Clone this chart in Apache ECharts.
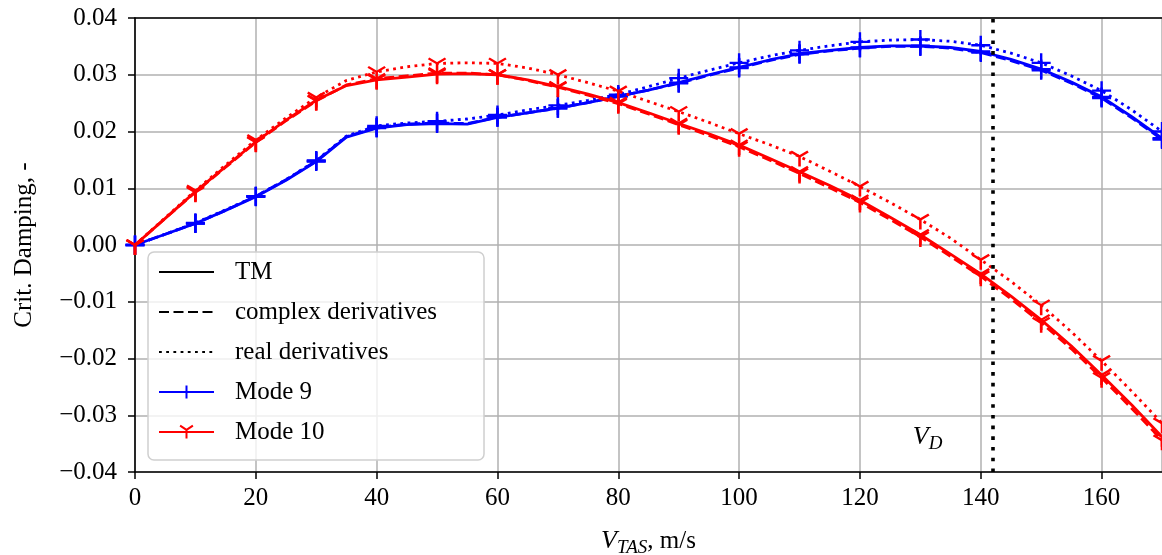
<!DOCTYPE html>
<html>
<head>
<meta charset="utf-8">
<script src="https://cdn.jsdelivr.net/npm/echarts@6/dist/echarts.min.js"></script>
<style>
html,body{margin:0;padding:0;background:#fff;overflow:hidden;}
#chart{width:1162px;height:555px;}
</style>
</head>
<body>
<div id="chart"></div>
<script>
// ---- data ----
const speeds = [0,5,10,15,20,25,30,35,40,45,50,55,60,65,70,75,80,85,90,95,100,105,110,115,120,125,130,135,140,145,150,155,160,165,170];

const mode9_TM      = [0,0.0019,0.0038,0.0061,0.0085,0.0114,0.0147,0.0190,0.0206,0.0212,0.0214,0.0213,0.0225,0.0233,0.0241,0.0251,0.0262,0.0273,0.0286,0.0300,0.0313,0.0326,0.0337,0.0343,0.0348,0.0351,0.0351,0.0348,0.0341,0.0327,0.0310,0.0287,0.0261,0.0226,0.0188];
const mode9_complex = [0,0.0019,0.0038,0.0061,0.0086,0.0115,0.0148,0.0191,0.0207,0.0213,0.0215,0.0214,0.0225,0.0233,0.0241,0.0251,0.0262,0.0273,0.0285,0.0299,0.0312,0.0325,0.0336,0.0342,0.0347,0.0350,0.0350,0.0347,0.0339,0.0325,0.0308,0.0285,0.0259,0.0224,0.0186];
const mode9_real    = [0,0.0019,0.0039,0.0062,0.0086,0.0115,0.0149,0.0192,0.0210,0.0215,0.0218,0.0222,0.0229,0.0238,0.0246,0.0255,0.0265,0.0279,0.0294,0.0308,0.0321,0.0333,0.0343,0.0351,0.0358,0.0361,0.0362,0.0359,0.0352,0.0338,0.0321,0.0298,0.0272,0.0238,0.0200];

const mode10_TM      = [0,0.0047,0.0094,0.0138,0.0182,0.0220,0.0255,0.0281,0.0291,0.0296,0.0301,0.0302,0.0300,0.0291,0.0279,0.0266,0.0251,0.0233,0.0214,0.0196,0.0176,0.0153,0.0129,0.0105,0.0079,0.0049,0.0018,-0.0016,-0.0051,-0.0090,-0.0132,-0.0178,-0.0229,-0.0282,-0.0338];
const mode10_complex = [0,0.0047,0.0093,0.0137,0.0181,0.0219,0.0254,0.0282,0.0293,0.0298,0.0303,0.0303,0.0300,0.0290,0.0278,0.0264,0.0249,0.0231,0.0212,0.0193,0.0173,0.0150,0.0126,0.0101,0.0075,0.0045,0.0014,-0.0020,-0.0055,-0.0095,-0.0137,-0.0183,-0.0234,-0.0288,-0.0344];
const mode10_real    = [0,0.0048,0.0096,0.0141,0.0185,0.0224,0.0260,0.0290,0.0305,0.0314,0.0320,0.0321,0.0320,0.0312,0.0300,0.0286,0.0271,0.0253,0.0235,0.0216,0.0196,0.0177,0.0156,0.0130,0.0103,0.0075,0.0045,0.0012,-0.0026,-0.0064,-0.0106,-0.0153,-0.0204,-0.0258,-0.0314];

const markerStep = 10;          // markers every 10 m/s
const vD = 142;                 // design dive speed
const vDLabel = [131.2, -0.0338];
const legendNames = ['TM','complex derivatives','real derivatives','Mode 9','Mode 10'];
const xTicks = [0,20,40,60,80,100,120,140,160];
const yTickLabels = ['−0.04','−0.03','−0.02','−0.01','0.00','0.01','0.02','0.03','0.04'];

// ---- styles ----
const FONT = 'Liberation Serif';
const BLUE = '#0000ff', RED = '#ff0000';
const PLUS = 'path://M0,-1L0,1M-1,0L1,0';
const TRI  = 'path://M0,0L0,1M0,0L-0.866,-0.5M0,0L0.866,-0.5';
const DASH = [10, 4.5], DOT = [2.8, 4.4];
const LW = 2.8;

function lineSeries(name, ys, color, dash, sym, size, offset, z) {
  return {
    type: 'line', name: name,
    data: speeds.map((x, i) => ({ value: [x, ys[i]], symbol: (x % markerStep === 0) ? sym : 'none' })),
    symbol: sym, symbolSize: size, symbolOffset: offset,
    showSymbol: true, showAllSymbol: true, smooth: false,
    lineStyle: { color: color, width: LW, type: dash },
    itemStyle: { color: color, borderColor: color, borderWidth: 2.4 },
    emphasis: { disabled: true }, z: z, animation: false
  };
}
function dummy(name, dash) {
  return { type: 'line', name: name, data: [], symbol: 'none',
    lineStyle: { color: '#000', width: LW, type: dash },
    itemStyle: { color: '#000', opacity: 0 } };
}

const series = [
  dummy('TM', 'solid'),
  dummy('complex derivatives', DASH),
  dummy('real derivatives', DOT),
  lineSeries('Mode 9', mode9_TM, BLUE, 'solid', PLUS, 19, [0,0], 3),
  lineSeries('Mode 9 complex', mode9_complex, BLUE, DASH, PLUS, 19, [0,0], 3),
  lineSeries('Mode 9 real', mode9_real, BLUE, DOT, PLUS, 19, [0,0], 3),
  lineSeries('Mode 10', mode10_TM, RED, 'solid', TRI, [17,15], [0,2.5], 4),
  lineSeries('Mode 10 complex', mode10_complex, RED, DASH, TRI, [17,15], [0,2.5], 4),
  lineSeries('Mode 10 real', mode10_real, RED, DOT, TRI, [17,15], [0,2.5], 4)
];
series[3].markLine = {
  silent: true, symbol: ['none','none'], label: { show: false },
  lineStyle: { color: '#000', width: 3.6, type: [3.6, 7.1] },
  data: [{ xAxis: vD }]
};
series[3].markPoint = {
  silent: true, symbol: 'circle', symbolSize: 1, itemStyle: { color: 'rgba(0,0,0,0)' },
  label: {
    show: true, position: 'inside', formatter: '{v|V}{s|D}',
    rich: {
      v: { fontFamily: FONT, fontStyle: 'italic', fontSize: 26, color: '#000' },
      s: { fontFamily: FONT, fontStyle: 'italic', fontSize: 19, color: '#000', padding: [14,0,0,0] }
    }
  },
  data: [{ coord: vDLabel }]
};

const legendData = legendNames.map((n, i) => i < 3 ? { name: n, itemStyle: { opacity: 0 } } : { name: n });

const axisLineStyle = { color: '#000', width: 1.6 };
const option = {
  animation: false,
  textStyle: { fontFamily: FONT },
  grid: { left: 135, width: 1027, top: 18, height: 454, containLabel: false, outerBoundsMode: 'none' },
  legend: {
    data: legendData, orient: 'vertical', left: 148, top: 252,
    itemWidth: 55, itemHeight: 16, itemGap: 14,
    padding: [7, 47, 15, 10],
    backgroundColor: 'rgba(255,255,255,0.8)', borderColor: '#cfcfcf', borderWidth: 1.5, borderRadius: 6,
    textStyle: { fontFamily: FONT, fontSize: 25, color: '#000', lineHeight: 26, padding: [0,0,0,16] },
    selectedMode: false
  },
  xAxis: [{
    type: 'value', min: 0, max: 170, interval: 20,
    name: '{v|V}{s|TAS}{n|, m/s}', nameLocation: 'middle', nameGap: 54,
    nameTextStyle: { rich: {
      v: { fontFamily: FONT, fontStyle: 'italic', fontSize: 26, color: '#000' },
      s: { fontFamily: FONT, fontStyle: 'italic', fontSize: 19, color: '#000', padding: [12,0,0,0] },
      n: { fontFamily: FONT, fontSize: 25, color: '#000' }
    } },
    axisLine: { show: true, onZero: false, lineStyle: axisLineStyle },
    axisTick: { show: true, length: 7, lineStyle: { color: '#000', width: 1.5 } },
    axisLabel: { fontFamily: FONT, fontSize: 25, color: '#000', margin: 14, showMaxLabel: false,
      formatter: v => xTicks.indexOf(v) >= 0 ? String(v) : '' },
    splitLine: { show: true, lineStyle: { color: '#b0b0b0', width: 1.5 } }
  }, {
    type: 'value', min: 0, max: 170, position: 'top',
    axisLine: { show: true, onZero: false, lineStyle: axisLineStyle },
    axisTick: { show: false }, axisLabel: { show: false }, splitLine: { show: false }
  }],
  yAxis: {
    type: 'value', min: -0.04, max: 0.04, interval: 0.01,
    name: 'Crit. Damping, -', nameLocation: 'middle', nameGap: 98,
    nameTextStyle: { fontFamily: FONT, fontSize: 25, color: '#000' },
    axisLine: { show: true, onZero: false, lineStyle: axisLineStyle },
    axisTick: { show: true, length: 7, lineStyle: { color: '#000', width: 1.5 } },
    axisLabel: { fontFamily: FONT, fontSize: 25, color: '#000', margin: 18,
      formatter: v => yTickLabels[Math.round(v * 100) + 4] },
    splitLine: { show: true, lineStyle: { color: '#b0b0b0', width: 1.5 } }
  },
  series: series
};
const chart = echarts.init(document.getElementById('chart'), null, { renderer: 'canvas' });
chart.setOption(option);
</script>
</body>
</html>
